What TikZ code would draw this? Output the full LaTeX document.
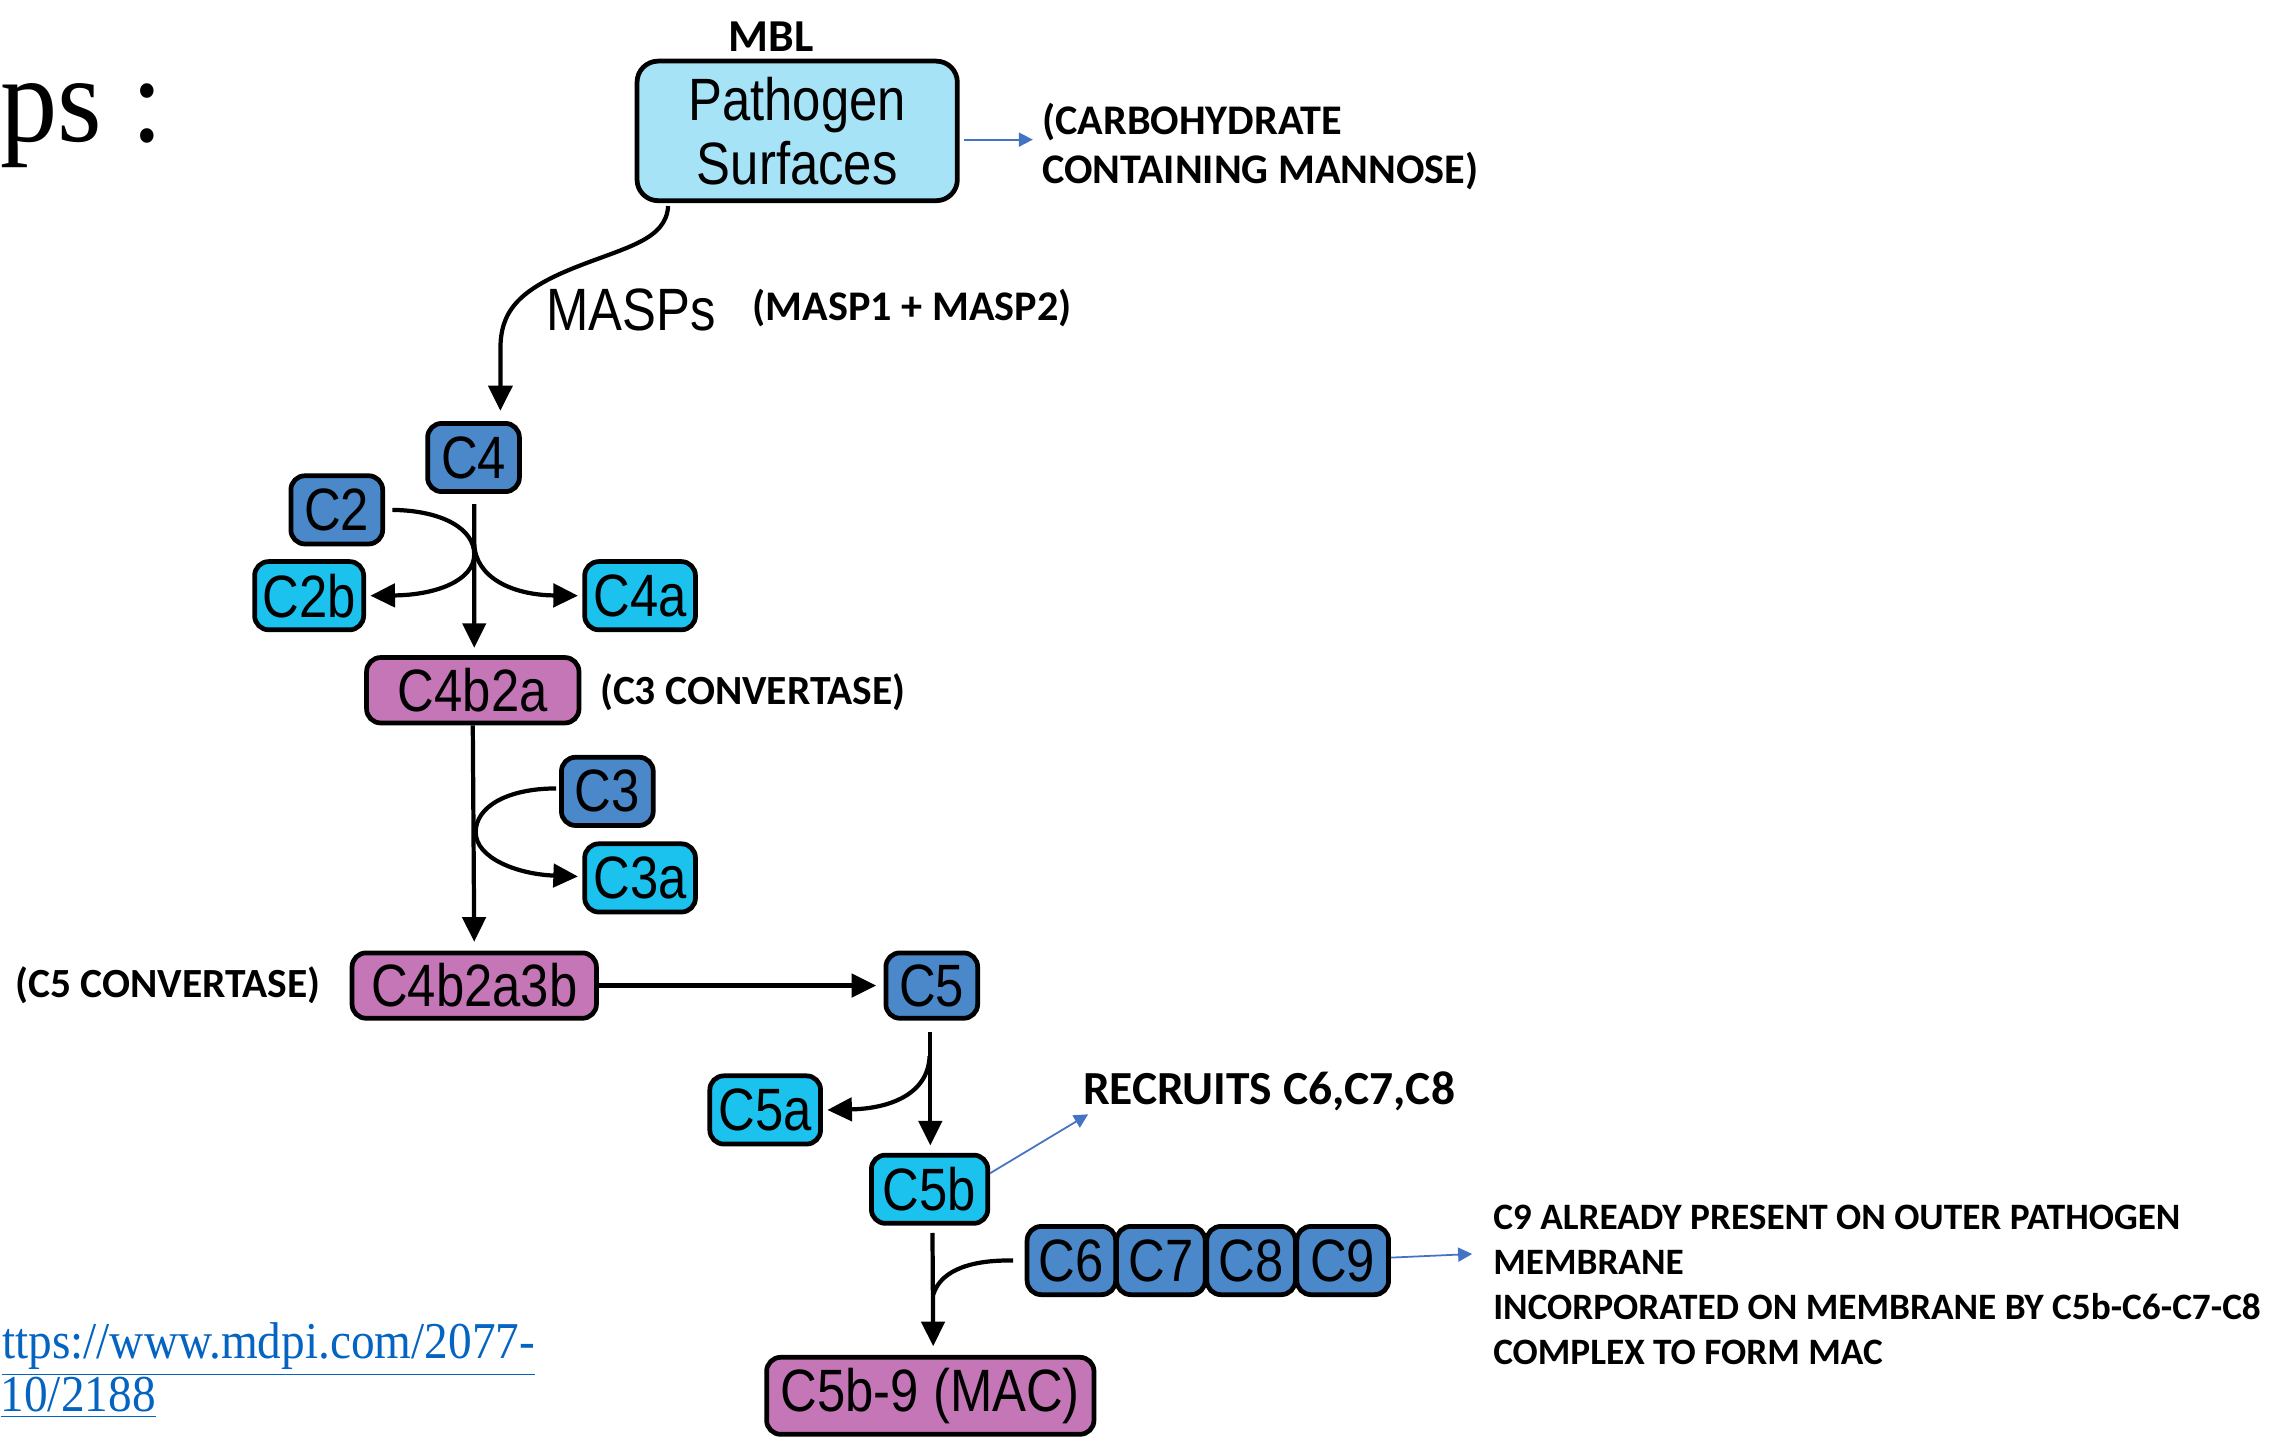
\documentclass[tikz,border=0pt]{standalone}
\usepackage{graphicx}
\usepackage{fontspec}
\setmainfont{Liberation Serif}
\newfontfamily\arialf{Liberation Sans}
\newfontfamily\calib{Carlito}
\usetikzlibrary{arrows.meta,calc}

\definecolor{surfblue}{HTML}{A6E3F6}
\definecolor{darkc}{HTML}{4A88C9}
\definecolor{cyanc}{HTML}{1CC2EE}
\definecolor{magc}{HTML}{C576B7}
\definecolor{noteblue}{HTML}{4472C4}
\definecolor{linkblue}{HTML}{0563C1}

% narrow lettering used inside the boxes
\newcommand\cnd[1]{\scalebox{0.85}[1]{#1}}

\begin{document}
\begin{tikzpicture}[x=0.014547cm, y=-0.014547cm,
  comp/.style={draw=black, line width=1.35pt, rounded corners=4pt, inner sep=0pt,
    font=\arialf\fontsize{17}{17}\selectfont, minimum height=19.4pt, minimum width=26.1pt},
  darkbox/.style={comp, fill=darkc},
  cyanbox/.style={comp, fill=cyanc},
  magbox/.style={comp, fill=magc, minimum height=18.6pt},
  note/.style={font=\calib\bfseries\fontsize{#1}{#1}\selectfont, inner sep=0pt},
  flow/.style={line width=1.2pt, -{Triangle[length=7pt,width=6.6pt]}},
  flowplain/.style={line width=1.2pt},
  pointer/.style={draw=noteblue, line width=0.5pt, -{Triangle[length=4pt,width=4pt]}}
]
\useasboundingbox (0,0) rectangle (1568,990);

% slide fragments
\node[anchor=base west, inner sep=0pt, font=\fontsize{35}{35}\selectfont] (title) at (0,97) {\scalebox{0.93}[1]{ps :}};
\node[anchor=base west, inner sep=0pt, font=\fontsize{14.7}{14.7}\selectfont, text=linkblue] (link1) at (1,934)
  {\scalebox{0.915}[1]{\underline{ttps://www.mdpi.com/2077-}}};
\node[anchor=base west, inner sep=0pt, font=\fontsize{14.7}{14.7}\selectfont, text=linkblue] (link2) at (0,970)
  {\scalebox{0.915}[1]{\underline{10/2188}}};

% pathogen surface
\node[note=13] (mbl) at (530,25) {MBL};
\node[comp, fill=surfblue, rounded corners=6pt, minimum width=91.1pt, minimum height=39.7pt,
  align=center, font=\arialf\fontsize{17}{18.2}\selectfont] (surf) at (548,90)
  {\cnd{Pathogen}\\\cnd{Surfaces}};
\node[note=12, anchor=west, align=left, font=\calib\bfseries\fontsize{12}{14}\selectfont] (carb) at (716,101)
  {(CARBOHYDRATE\\CONTAINING MANNOSE)};

% components
\node[darkbox] (C4) at (325.5,314.5) {\cnd{C4}};
\node[darkbox] (C2) at (231.5,350.5) {\cnd{C2}};
\node[cyanbox, minimum width=31pt] (C2b) at (212.5,409.5) {\cnd{C2b}};
\node[cyanbox, minimum width=31.5pt] (C4a) at (440,409.5) {\cnd{C4a}};
\node[magbox, minimum width=60.4pt] (C4b2a) at (325,474.5) {\cnd{C4b2a}};
\node[darkbox] (C3) at (417.5,544) {\cnd{C3}};
\node[cyanbox, minimum width=31.5pt] (C3a) at (440,603.5) {\cnd{C3a}};
\node[magbox, minimum width=69.5pt] (C4b2a3b) at (326,677.5) {\cnd{C4b2a3b}};
\node[darkbox, minimum height=18.6pt] (C5) at (640.5,677.5) {\cnd{C5}};
\node[cyanbox, minimum width=31.5pt] (C5a) at (526,763) {\cnd{C5a}};
\node[cyanbox, minimum width=33.1pt] (C5b) at (639,817.5) {\cnd{C5b}};
\node[darkbox, minimum width=25.2pt] (C6) at (736.5,866.5) {\cnd{C6}};
\node[darkbox, minimum width=25.2pt] (C7) at (798,866.5) {\cnd{C7}};
\node[darkbox, minimum width=25.2pt] (C8) at (860,866.5) {\cnd{C8}};
\node[darkbox, minimum width=26.1pt] (C9) at (923,866.5) {\cnd{C9}};
\node[magbox, minimum width=93.1pt, minimum height=21.9pt] (MAC) at (639.5,959.5) {\cnd{C5b-9 (MAC)}};

% labels
\node[font=\arialf\fontsize{17}{17}\selectfont, inner sep=0pt] (masps) at (434,213) {\cnd{MASPs}};
\node[note=12, anchor=west] (maspnote) at (517,212) {(MASP1 + MASP2)};
\node[note=11.8, anchor=west] (c3conv) at (412,476) {(C3 CONVERTASE)};
\node[note=11.8, anchor=west] (c5conv) at (10,677) {(C5 CONVERTASE)};
\node[note=13.5, anchor=west] (recruit) at (744,750) {RECRUITS C6,C7,C8};
\node[note=10.6, anchor=west, align=left, font=\calib\bfseries\fontsize{10.6}{12.8}\selectfont] (c9note) at (1026,883)
  {C9 ALREADY PRESENT ON OUTER PATHOGEN\\MEMBRANE\\INCORPORATED ON MEMBRANE BY C5b-C6-C7-C8\\COMPLEX TO FORM MAC};

% free ends of the pointer arrows
\coordinate (rectip) at (748,766);
\coordinate (c9tip) at (1012,862);

% main cascade
\draw[line width=1.2pt, -{Triangle[length=7.2pt,width=6.8pt]}]
  ($(surf.south west)+(23,2)$) .. controls (458,165) and (430,170) .. (395,184)
  .. controls (355,200) and (344,215) .. (344,240) -- ($(C4.north)+(18.5,-7)$);
\draw[flow] ($(C4.south)+(0.5,7)$) -- ($(C4b2a.north)+(1,-5)$);
\draw[flow] ($(C2.east)+(5,0)$) .. controls (305,351) and (326,364) .. (326,381)
  .. controls (326,399) and (300,409) .. ($(C2b.east)+(3,0)$);
\draw[flow] (326,374) .. controls (327,397) and (352,409) .. ($(C4a.west)+(-3,0)$);
\draw[flow] (C4b2a.south) -- ($(C4b2a3b.north)+(0,-6)$);
\draw[flowplain] ($(C3.west)+(-2,-2)$) .. controls (348,542) and (327,555) .. (327,572);
\draw[flow] (327,572) .. controls (327,590) and (356,601) .. ($(C3a.west)+(-3,-1)$);
\draw[flow] (C4b2a3b.east) -- ($(C5.west)+(-5,0)$);
\draw[flow] ($(C5.south)+(-1,8)$) -- ($(C5b.north)+(0.5,-5)$);
\draw[flow] (639,726) .. controls (638,752) and (612,762) .. ($(C5a.east)+(3,0)$);
\draw[flow] ($(C5b.south)+(2,5)$) -- ($(MAC.north)+(2,-6)$);
\draw[flowplain] ($(C6.west)+(-8,0)$) .. controls (670,866) and (647,872) .. (641.5,890);

% pointer arrows to the notes
\draw[pointer] ($(surf.east)+(3,6)$) -- ($(carb.west)+(-6,-5)$);
\draw[pointer] ($(C5b.east)+(0,-11)$) -- (rectip);
\draw[pointer] ($(C9.east)+(0,-2)$) -- (c9tip);
\end{tikzpicture}
\end{document}
